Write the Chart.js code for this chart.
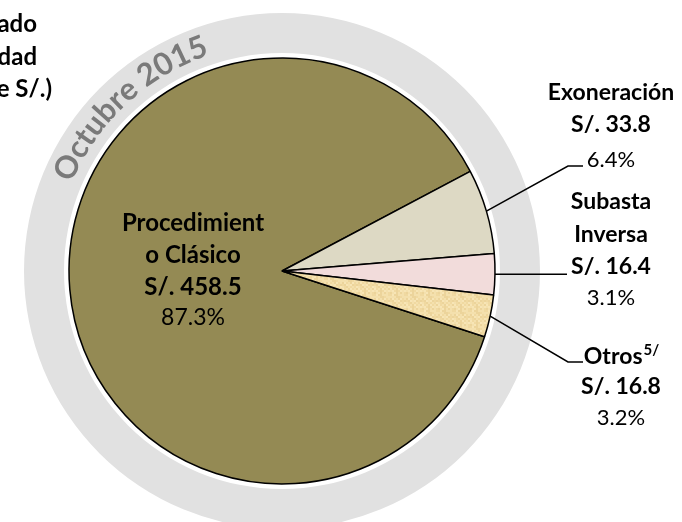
<!DOCTYPE html>
<html>
<head>
<meta charset="utf-8">
<script src="https://cdn.jsdelivr.net/npm/chart.js@4"></script>
<style>
  html, body { margin: 0; padding: 0; background: #fff; overflow: hidden; }
  #grafico { display: block; }
</style>
</head>
<body>
<canvas id="grafico" width="682" height="522"></canvas>
<script>
// datos (millones de S/.)
const categorias = ['Procedimiento Clásico', 'Exoneración', 'Subasta Inversa', 'Otros'];
const etiquetas = [['Procedimient', 'o Clásico'], ['Exoneración'], ['Subasta', 'Inversa'], ['Otros']];
const montos = [458.5, 33.8, 16.4, 16.8];
const periodo = 'Octubre 2015';
const titulo = ['Monto adjudicado', 'por modalidad', '(Millones de S/.)'];

const FUENTE = 'Lato, "Open Sans", sans-serif';

function texturaOtros() {
    let c = document.createElement('canvas');
    c.width = 16; c.height = 16;
    let ctx = c.getContext('2d');
    let tonos = ['#f0d9a1', '#f4e0ad', '#ecd49b', '#f7e5b6'];
    for (let i = 0; i < 8; i++) {
        for (let j = 0; j < 8; j++) {
            ctx.fillStyle = tonos[(i * 5 + j * 3 + (i * j) % 5) % 4];
            ctx.fillRect(i * 2, j * 2, 2, 2);
        }
    }
    return ctx.createPattern(c, 'repeat');
}

let colores = ['#948a54', '#ddd9c4', '#f2dcdb', texturaOtros()];

function porcentaje(i) {
    let total = montos.reduce((a, b) => a + b, 0);
    return (montos[i] / total * 100).toFixed(1) + '%';
}

// anillo gris + texto curvo
const anillo = {
    id: 'anillo',
    beforeDatasetsDraw(chart) {
        let arc = chart.getDatasetMeta(0).data[0];
        let ctx = chart.ctx;
        ctx.save();
        ctx.beginPath();
        ctx.arc(arc.x, arc.y, 258, 0, Math.PI * 2);
        ctx.arc(arc.x, arc.y, 218, 0, Math.PI * 2, true);
        ctx.fillStyle = '#e1e1e1';
        ctx.fill('evenodd');

        ctx.font = 'bold 31px ' + FUENTE;
        ctx.fillStyle = '#7a7a7a';
        ctx.textAlign = 'center';
        ctx.textBaseline = 'alphabetic';
        let r = 228;
        let ancho = ctx.measureText(periodo).width;
        let ang = -133 * Math.PI / 180 - ancho / 2 / r;
        for (let ch of periodo) {
            let w = ctx.measureText(ch).width;
            let a = ang + (w / 2) / r;
            ctx.save();
            ctx.translate(arc.x + r * Math.cos(a), arc.y + r * Math.sin(a));
            ctx.rotate(a + Math.PI / 2);
            ctx.fillText(ch, 0, 0);
            ctx.restore();
            ang += w / r;
        }
        ctx.restore();
    },
    afterDatasetsDraw(chart) {
        let ctx = chart.ctx;
        let meta = chart.getDatasetMeta(0);
        ctx.save();
        ctx.fillStyle = '#000';
        ctx.textAlign = 'center';
        ctx.textBaseline = 'middle';

        // titulo (recortado a la izquierda)
        ctx.font = 'bold 24px ' + FUENTE;
        ctx.textAlign = 'right';
        let xt = [37, 37, 52];
        let yt = [24, 57, 89];
        titulo.forEach((t, i) => ctx.fillText(t, xt[i], yt[i]));
        ctx.textAlign = 'center';

        // etiqueta del sector principal
        ctx.font = 'bold 24px ' + FUENTE;
        ctx.fillText(etiquetas[0][0], 193, 223);
        ctx.fillText(etiquetas[0][1], 193, 255);
        ctx.fillText('S/. ' + montos[0], 193, 287);
        ctx.font = '23px ' + FUENTE;
        ctx.fillText(porcentaje(0), 193, 318);

        // lineas guia
        let codos = [[[568, 166], [583, 166]], [[567, null]], [[568, 362], [583, 362]]];
        ctx.strokeStyle = '#000';
        ctx.lineWidth = 1.5;
        for (let k = 1; k < 4; k++) {
            let arc = meta.data[k];
            let mid = (arc.startAngle + arc.endAngle) / 2;
            let x0 = arc.x + arc.outerRadius * Math.cos(mid);
            let y0 = arc.y + arc.outerRadius * Math.sin(mid);
            ctx.beginPath();
            ctx.moveTo(x0, y0);
            codos[k - 1].forEach(p => ctx.lineTo(p[0], p[1] === null ? y0 : p[1]));
            ctx.stroke();
        }

        // textos de los sectores pequeños
        let bloques = [
            { x: 611, ys: [93], yv: 125, yp: 160 },
            { x: 611, ys: [202, 235], yv: 267, yp: 298 },
            { x: 621, ys: [357], yv: 387, yp: 418 }
        ];
        let fb = 'bold 23px ' + FUENTE, fs = 'bold 15px ' + FUENTE;
        bloques.forEach((b, i) => {
            let k = i + 1;
            ctx.font = fb;
            etiquetas[k].forEach((t, j) => {
                if (k === 3) {
                    let w = ctx.measureText(t).width;
                    ctx.font = fs;
                    let ws = ctx.measureText('5/').width;
                    ctx.textAlign = 'left';
                    let x0 = b.x - (w + ws) / 2;
                    ctx.font = fb;
                    ctx.fillText(t, x0, b.ys[j]);
                    ctx.font = fs;
                    ctx.fillText('5/', x0 + w + 1, b.ys[j] - 7);
                    ctx.font = fb;
                    ctx.textAlign = 'center';
                } else {
                    ctx.fillText(t, b.x, b.ys[j]);
                }
            });
            ctx.fillText('S/. ' + montos[k], b.x, b.yv);
            ctx.font = '22px ' + FUENTE;
            ctx.fillText(porcentaje(k), b.x, b.yp);
        });
        ctx.restore();
    }
};

let grafico = new Chart(document.getElementById('grafico').getContext('2d'), {
    type: 'pie',
    data: {
        labels: categorias,
        datasets: [{
            data: montos,
            backgroundColor: colores,
            borderColor: '#000',
            borderWidth: 1.5
        }]
    },
    options: {
        responsive: false,
        animation: false,
        rotation: 108,
        radius: 213,
        layout: { padding: { left: 0, right: 118, top: 20, bottom: 0 } },
        plugins: {
            legend: { display: false },
            tooltip: { enabled: false }
        }
    },
    plugins: [anillo]
});
</script>
</body>
</html>
